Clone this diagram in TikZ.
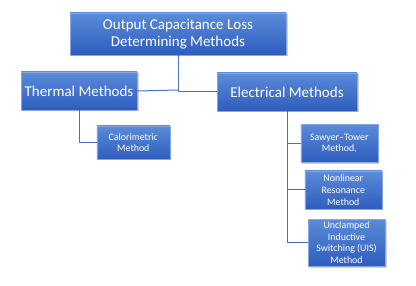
\documentclass[tikz,border=0pt]{standalone}
\usepackage{fontspec}
\setmainfont{Carlito}
\usetikzlibrary{shadows}

\definecolor{boxtop}{HTML}{5B8BD9}
\definecolor{boxbot}{HTML}{2E5DBE}
\definecolor{boxrim}{HTML}{86A8E2}
\definecolor{linkblue}{HTML}{4472C4}

\begin{document}
\begin{tikzpicture}[
    x=1pt,y=-1pt,
    method/.style={draw=boxrim, line width=0.4pt, top color=boxtop, bottom color=boxbot,
      text=white, align=center, inner sep=1pt,
      drop shadow={shadow xshift=1.5pt, shadow yshift=-1.5pt, opacity=0.35}},
    big/.style={method, font=\fontsize{15}{17}\selectfont},
    small/.style={method, font=\fontsize{9.9}{11.7}\selectfont},
    link/.style={draw=linkblue, line width=1pt}
  ]
    \useasboundingbox (0,0) rectangle (416,286);

    \node[big, minimum width=216pt, minimum height=42pt] (root) at (178,34)
      {Output Capacitance Loss\\Determining Methods};
    \node[big, minimum width=116pt, minimum height=38pt] (thermal) at (79,91) {Thermal Methods};
    \node[big, minimum width=140pt, minimum height=38pt] (elec) at (287,92) {Electrical Methods};

    \node[small, minimum width=73pt, minimum height=33pt] (calor) at (133.3,142.5)
      {Calorimetric\\Method};
    \node[small, minimum width=77pt, minimum height=38pt] (sawyer) at (339.3,143.3)
      {Sawyer–Tower\\Method,};
    \node[small, minimum width=77pt, minimum height=38pt] (nonlin) at (343.3,190)
      {Nonlinear\\Resonance\\Method};
    \node[small, minimum width=77pt, minimum height=47pt] (uis) at (346.5,242.7)
      {Unclamped\\Inductive\\Switching (UIS)\\Method};

    \coordinate (split) at (178,90);
    \draw[link] (root.south) -- (split);
    \draw[link] (split) -- (thermal.east);
    \draw[link] (split) |- (elec.west);
    \draw[link] (thermal.south) |- (calor.west);
    \draw[link] (elec.south) |- (uis.west);
    \draw[link] (elec.south |- sawyer.west) -- (sawyer.west);
    \draw[link] (elec.south |- nonlin.west) -- (nonlin.west);
  \end{tikzpicture}
\end{document}
